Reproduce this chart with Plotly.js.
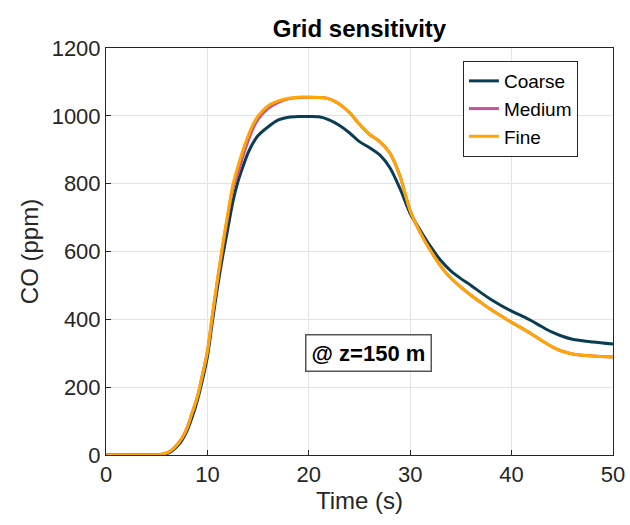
<!DOCTYPE html>
<html>
<head>
<meta charset="utf-8">
<script src="https://cdn.plot.ly/plotly-3.0.1.min.js"></script>
<style>html,body{margin:0;padding:0;background:#fff;}#chart{width:630px;height:525px;}</style>
</head>
<body>
<div id="chart"></div>
<script>
const time = [0,2,4,5,5.5,6,6.5,7,7.5,8,8.5,9,9.5,10,10.5,11,11.5,12,12.5,13,13.5,14,14.5,15,16,17,18,19,20,21,22,23,24,25,26,27,28,29,30,31,32,33,34,35,36,37,38,40,41,42,43,44,45,46,48,50];
const coarse = [0,0,0,0,1,4,12,25,44,72,112,160,220,290,395,495,585,665,745,805,850,890,920,942,968,988,996,998,998,997,988,972,950,924,906,885,847,785,712,662,615,574,543,520,500,478,458,424,410,395,378,362,350,341,333,327];
const medium = [0,0,0,0,2,6,15,30,50,80,125,170,235,305,412,515,612,702,785,830,880,925,962,990,1022,1040,1050,1054,1055,1054,1050,1035,1010,975,945,924,890,822,720,655,603,557,522,495,471,449,428,391,374,356,337,319,306,298,292,289];
const fine = [0,0,0,0,2,6,15,30,50,80,125,170,235,305,415,520,620,710,795,850,898,940,975,1000,1030,1044,1052,1055,1055,1054,1050,1035,1010,975,945,924,890,822,720,655,603,557,522,495,471,449,428,391,374,356,337,319,306,298,292,289];
const seriesNames = ['Coarse','Medium','Fine'];
const seriesColors = ['#0b3d52','#c75495','#ffa600'];
const xTicks = [0,10,20,30,40,50];
const yTicks = [0,200,400,600,800,1000,1200];

const FONT = 'Arial, Liberation Sans, sans-serif';

const data = [coarse, medium, fine].map((v,i)=>({
  x: time, y: v, type:'scatter', mode:'lines', name: seriesNames[i],
  line:{color: seriesColors[i], width:3, shape:'spline', smoothing:0.8}
}));

const axisCommon = {
  showline:true, mirror:true, linecolor:'#262626', linewidth:1,
  ticks:'inside', ticklen:5, tickcolor:'#262626',
  showgrid:true, gridcolor:'#e3e3e3', gridwidth:1, zeroline:false,
  tickfont:{family:FONT, size:22, color:'#262626'}
};

const layout = {
  width:630, height:525,
  margin:{l:106, r:17, t:48, b:70},
  paper_bgcolor:'#fff', plot_bgcolor:'#fff',
  font:{family:FONT},
  title:{text:'<b>Grid sensitivity</b>', x:0.5, xref:'paper', y:1-29/525, yanchor:'middle',
    font:{family:FONT, size:24, color:'#000'}},
  xaxis:Object.assign({}, axisCommon, {range:[0,50], tickvals:xTicks,
    title:{text:'Time (s)', standoff:2, font:{family:FONT, size:24, color:'#262626'}}}),
  yaxis:Object.assign({}, axisCommon, {range:[0,1200], tickvals:yTicks,
    title:{text:'CO (ppm)', standoff:6, font:{family:FONT, size:24, color:'#262626'}}}),
  showlegend:true,
  legend:{x:0.704, y:0.968, xanchor:'left', yanchor:'top', bgcolor:'#fff',
    bordercolor:'#262626', borderwidth:1,
    font:{family:FONT, size:19, color:'#000'},
    tracegroupgap:0},
  annotations:[{x:25.9, y:301, xref:'x', yref:'y', text:'<b>@ z=150 m</b>', showarrow:false,
    font:{family:FONT, size:22, color:'#000'},
    bgcolor:'#fff', bordercolor:'#555', borderwidth:1.5, borderpad:5}]
};

Plotly.newPlot('chart', data, layout, {displayModeBar:false, staticPlot:true});
</script>
</body>
</html>
